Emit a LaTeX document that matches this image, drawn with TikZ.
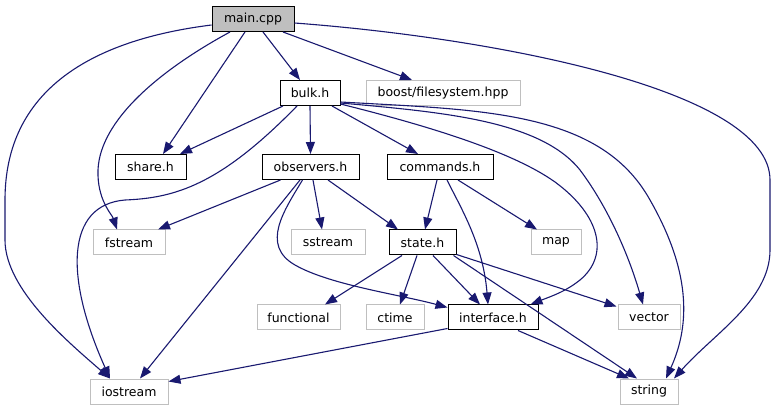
\documentclass[tikz,border=0pt]{standalone}
\usepackage{fontspec}
\setmainfont{DejaVu Sans}
\usetikzlibrary{arrows.meta,calc}
\definecolor{edgeblue}{HTML}{191970}
\definecolor{lightframe}{HTML}{BFBFBF}
\begin{document}
\begin{tikzpicture}[x=1pt,y=-1pt,
  box/.style={draw=black, line width=1pt, minimum height=25pt, inner sep=0pt,
    font=\fontsize{12.5}{14}\selectfont, anchor=center},
  ext/.style={box, draw=lightframe},
  dep/.style={draw=edgeblue, line width=1.1pt, -{Triangle[length=12pt,width=9pt]}}
]
\fill[white] (0,0) rectangle (776,411);
\useasboundingbox (0,0) rectangle (776,411);

% nodes
\node[box, minimum width=82pt, fill=lightframe] (main) at (253,19) {main.cpp};
\node[box, minimum width=60pt] (bulk) at (310,93) {bulk.h};
\node[ext, minimum width=154pt] (boost) at (443,93) {boost/filesystem.hpp};
\node[box, minimum width=71pt] (share) at (150.5,167) {share.h};
\node[box, minimum width=97pt] (obs) at (310.5,167) {observers.h};
\node[box, minimum width=106pt] (cmd) at (440,167) {commands.h};
\node[ext, minimum width=72pt] (fstream) at (129,242.5) {fstream};
\node[ext, minimum width=74pt] (sstream) at (328,242.5) {sstream};
\node[box, minimum width=67pt] (state) at (422.5,242.5) {state.h};
\node[ext, minimum width=50pt] (map) at (556,242.5) {map};
\node[ext, minimum width=83pt] (functional) at (298.5,317.5) {functional};
\node[ext, minimum width=58pt] (ctime) at (395,317.5) {ctime};
\node[box, minimum width=90pt] (iface) at (493,317.5) {interface.h};
\node[ext, minimum width=62pt] (vector) at (649,317.5) {vector};
\node[ext, minimum width=78pt] (iostream) at (129,391.5) {iostream};
\node[ext, minimum width=58pt] (string) at (649,391.5) {string};

% main.cpp
\draw[dep] ($(main.south)+(10,0)$) -- ($(bulk.north)+(-10,0)$);
\draw[dep] ($(main.south)+(-8,0)$) -- ($(share.north)+(12.5,0)$);
\draw[dep] ($(main.south)+(30,0)$) -- ($(boost.north)+(-31,0)$);
\draw[dep] ($(main.south)+(-23,0)$) .. controls +(-70,38) and +(2,-50) .. (98,170)
  .. controls +(-1,30) and +(-5,-15) .. ($(fstream.north)+(-12,0)$);
\draw[dep] ($(main.west)+(0,6)$) .. controls +(-120,15) and +(0,-110) .. (5,200) -- (5,240)
  .. controls +(0,50) and +(-40,-35) .. ($(iostream.north)+(-19,0)$);
\draw[dep] ($(main.east)+(0,4)$) .. controls +(200,15) and +(0,-90) .. (770,180) -- (770,250)
  .. controls +(0,50) and +(40,-45) .. ($(string.north)+(25,0)$);

% bulk.h
\draw[dep] ($(bulk.south)+(-27,0)$) -- ($(share.north)+(29.5,0)$);
\draw[dep] (bulk.south) -- (obs.north);
\draw[dep] ($(bulk.south)+(22,0)$) -- ($(cmd.north)+(-22,0)$);
\draw[dep] ($(bulk.south)+(-13,0)$) .. controls +(-77,79) and +(50,-2) .. (125,200)
  .. controls +(-60,5) and +(-45,-100) .. ($(iostream.north)+(-19,0)$);
\draw[dep] ($(bulk.south east)+(0,-2)$) .. controls +(80,20) and +(-45,-32) .. (555,182)
  .. controls +(45,33) and +(30,-25) .. (580,280)
  .. controls +(-15,12) and +(20,-8) .. ($(iface.north east)+(-8,0)$);
\draw[dep] ($(bulk.south east)+(0,-3)$) .. controls +(100,9) and +(-40,-50) .. (580,170)
  .. controls +(30,40) and +(-13,-45) .. ($(vector.north)+(-6,0)$);
\draw[dep] ($(bulk.south east)+(0,-4)$) .. controls +(140,8) and +(-50,-90) .. (650,200)
  .. controls +(40,70) and +(25,-55) .. ($(string.north)+(17,0)$);

% observers.h
\draw[dep] ($(obs.south)+(-30,0)$) -- ($(fstream.north)+(29,0)$);
\draw[dep] ($(obs.south)+(-10.5,0)$) -- ($(iostream.north)+(11,0)$);
\draw[dep] ($(obs.south)+(2.5,0)$) -- ($(sstream.north)+(-6,0)$);
\draw[dep] ($(obs.south)+(17.5,0)$) -- ($(state.north)+(-24.5,0)$);
\draw[dep] ($(obs.south)+(-8,0)$) .. controls +(-18,30) and +(-35,-20) .. (295,265)
  .. controls +(35,20) and +(-48,-13) .. ($(iface.north west)+(0,3)$);

% commands.h
\draw[dep] ($(cmd.south)+(-3,0)$) -- ($(state.north)+(2.5,0)$);
\draw[dep] ($(cmd.south)+(7,0)$) .. controls +(15,30) and +(-5,-60) .. ($(iface.north)+(-5,0)$);
\draw[dep] ($(cmd.south)+(18,0)$) -- ($(map.north)+(-19,0)$);

% state.h
\draw[dep] ($(state.south)+(-20.5,0)$) -- ($(functional.north)+(26.5,0)$);
\draw[dep] ($(state.south)+(-5.5,0)$) -- ($(ctime.north)+(5,0)$);
\draw[dep] ($(state.south)+(10.5,0)$) -- ($(iface.north)+(-13,0)$);
\draw[dep] ($(state.south east)+(0,-1)$) -- ($(vector.north west)+(-1,2)$);
\draw[dep] ($(state.south east)+(-3,0)$) -- ($(string.north)+(-12,0)$);

% interface.h
\draw[dep] ($(iface.south west)+(0,-2)$) -- ($(iostream.north east)+(0,3)$);
\draw[dep] ($(iface.south)+(25,0)$) -- ($(string.north)+(-20,0)$);
\end{tikzpicture}
\end{document}
